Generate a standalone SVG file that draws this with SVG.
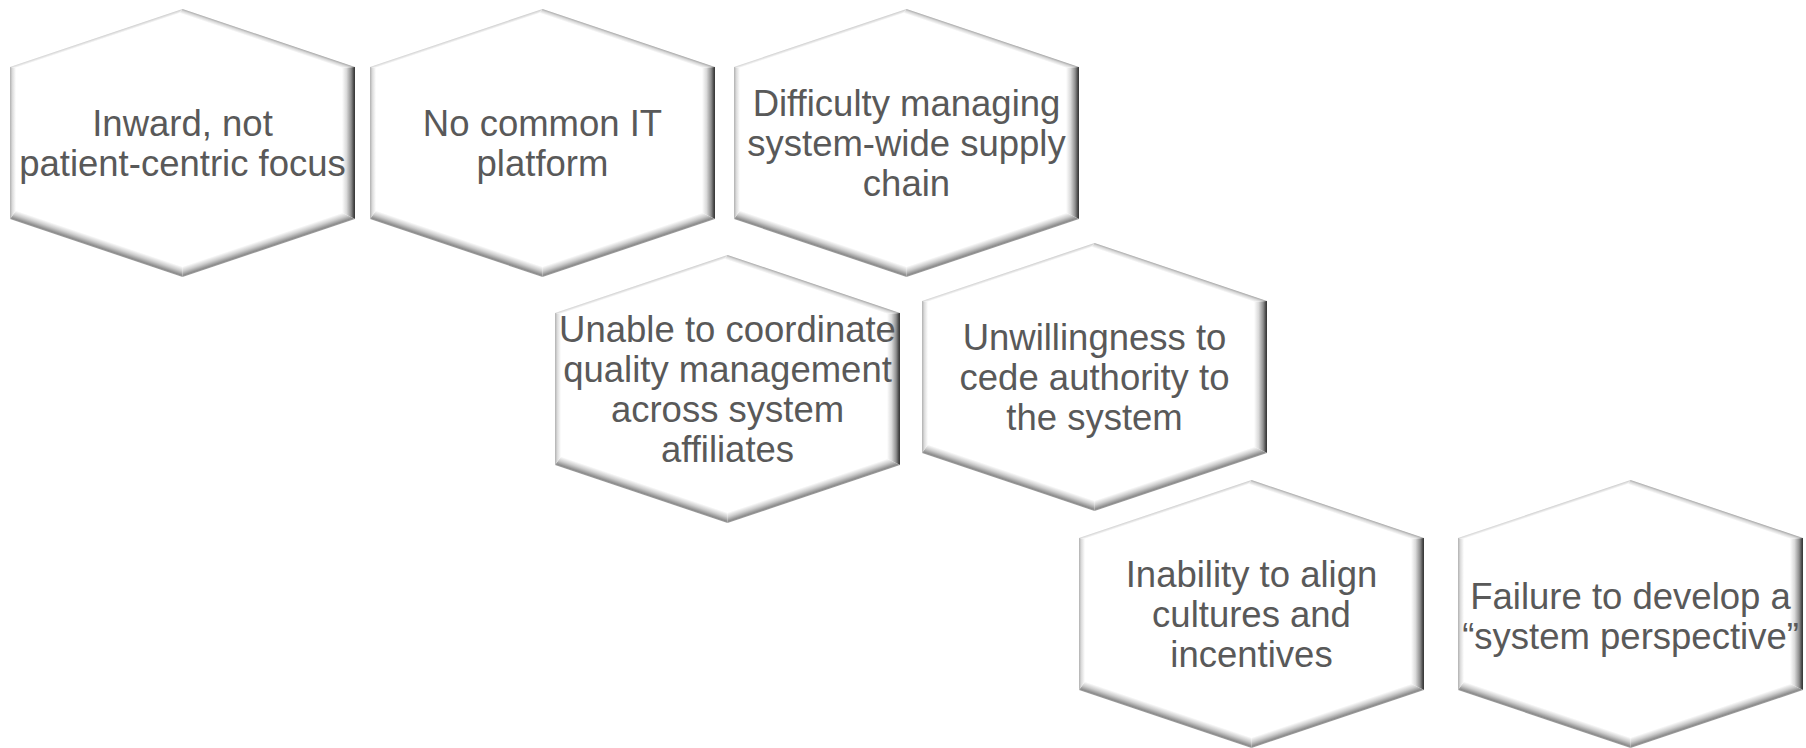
<svg xmlns="http://www.w3.org/2000/svg" xmlns:xlink="http://www.w3.org/1999/xlink" width="1806" height="748" viewBox="0 0 1806 748">
  <style>
    .face { fill: #ffffff; }
    .label { font-family: "Liberation Sans", Arial, sans-serif; font-size: 36.5px; fill: #595959; text-anchor: middle; }
  </style>
  <defs>
    <!-- bevel facet shading, in the hexagon's local coordinates (345 x 268) -->
    <linearGradient id="gTL" gradientUnits="userSpaceOnUse" x1="87.2" y1="31.85" x2="86.25" y2="29">
      <stop offset="0" stop-color="#ffffff"/>
      <stop offset="1" stop-color="#cfcfcf"/>
    </linearGradient>
    <linearGradient id="gTR" gradientUnits="userSpaceOnUse" x1="257.15" y1="33.74" x2="258.75" y2="29">
      <stop offset="0" stop-color="#ffffff"/>
      <stop offset="0.6" stop-color="#d8d8d8"/>
      <stop offset="1" stop-color="#a8a8a8"/>
    </linearGradient>
    <linearGradient id="gR" gradientUnits="userSpaceOnUse" x1="332" y1="0" x2="345" y2="0">
      <stop offset="0" stop-color="#ffffff"/>
      <stop offset="0.35" stop-color="#dadada"/>
      <stop offset="0.7" stop-color="#909090"/>
      <stop offset="0.9" stop-color="#4a4a4a"/>
      <stop offset="1" stop-color="#333333"/>
    </linearGradient>
    <linearGradient id="gBR" gradientUnits="userSpaceOnUse" x1="255.56" y1="229.52" x2="258.75" y2="239">
      <stop offset="0" stop-color="#ffffff"/>
      <stop offset="0.45" stop-color="#cccccc"/>
      <stop offset="0.85" stop-color="#8c8c8c"/>
      <stop offset="1" stop-color="#a0a0a0"/>
    </linearGradient>
    <linearGradient id="gBL" gradientUnits="userSpaceOnUse" x1="89.44" y1="229.52" x2="86.25" y2="239">
      <stop offset="0" stop-color="#ffffff"/>
      <stop offset="0.45" stop-color="#cccccc"/>
      <stop offset="0.85" stop-color="#8c8c8c"/>
      <stop offset="1" stop-color="#a0a0a0"/>
    </linearGradient>
    <linearGradient id="gL" gradientUnits="userSpaceOnUse" x1="6" y1="0" x2="0" y2="0">
      <stop offset="0" stop-color="#ffffff"/>
      <stop offset="0.6" stop-color="#dcdcdc"/>
      <stop offset="1" stop-color="#b0b0b0"/>
    </linearGradient>

    <!-- bevelled hexagon tile -->
    <g id="hex">
      <polygon class="face" points="169.4,4.2 332,58.9 332,203.8 172.5,257.5 6,201.5 6,59.1"/>
      <polygon fill="url(#gTL)" points="0,58 172.5,0 169.4,4.2 6,59.1"/>
      <polygon fill="url(#gTR)" points="172.5,0 345,58 332,58.9 169.4,4.2"/>
      <polygon fill="url(#gR)" points="345,58 345,210 332,203.8 332,58.9"/>
      <polygon fill="url(#gBR)" points="345,210 172.5,268 172.5,257.5 332,203.8"/>
      <polygon fill="url(#gBL)" points="172.5,268 0,210 6,201.5 172.5,257.5"/>
      <polygon fill="url(#gL)" points="0,210 0,58 6,59.1 6,201.5"/>
    </g>
  </defs>

  <rect width="1806" height="748" fill="#ffffff"/>

  <g id="connectors"/>

  <g id="node-inward-focus">
    <use href="#hex" x="10" y="9"/>
    <text class="label"><tspan x="182.5" y="135.5">Inward, not</tspan><tspan x="182.5" y="175.5">patient-centric focus</tspan></text>
  </g>

  <g id="node-it-platform">
    <use href="#hex" x="370" y="9"/>
    <text class="label"><tspan x="542.5" y="135.5">No common IT</tspan><tspan x="542.5" y="175.5">platform</tspan></text>
  </g>

  <g id="node-supply-chain">
    <use href="#hex" x="734" y="9"/>
    <text class="label"><tspan x="906.5" y="115.5">Difficulty managing</tspan><tspan x="906.5" y="155.5">system-wide supply</tspan><tspan x="906.5" y="195.5">chain</tspan></text>
  </g>

  <g id="node-quality-management">
    <use href="#hex" x="555" y="255"/>
    <text class="label"><tspan x="727.5" y="341.5">Unable to coordinate</tspan><tspan x="727.5" y="381.5">quality management</tspan><tspan x="727.5" y="421.5">across system</tspan><tspan x="727.5" y="461.5">affiliates</tspan></text>
  </g>

  <g id="node-cede-authority">
    <use href="#hex" x="922" y="243"/>
    <text class="label"><tspan x="1094.5" y="349.5">Unwillingness to</tspan><tspan x="1094.5" y="389.5">cede authority to</tspan><tspan x="1094.5" y="429.5">the system</tspan></text>
  </g>

  <g id="node-align-cultures">
    <use href="#hex" x="1079" y="480"/>
    <text class="label"><tspan x="1251.5" y="586.5">Inability to align</tspan><tspan x="1251.5" y="626.5">cultures and</tspan><tspan x="1251.5" y="666.5">incentives</tspan></text>
  </g>

  <g id="node-system-perspective">
    <use href="#hex" x="1458" y="480"/>
    <text class="label"><tspan x="1630.5" y="609">Failure to develop a</tspan><tspan x="1630.5" y="649">“system perspective”</tspan></text>
  </g>
</svg>
